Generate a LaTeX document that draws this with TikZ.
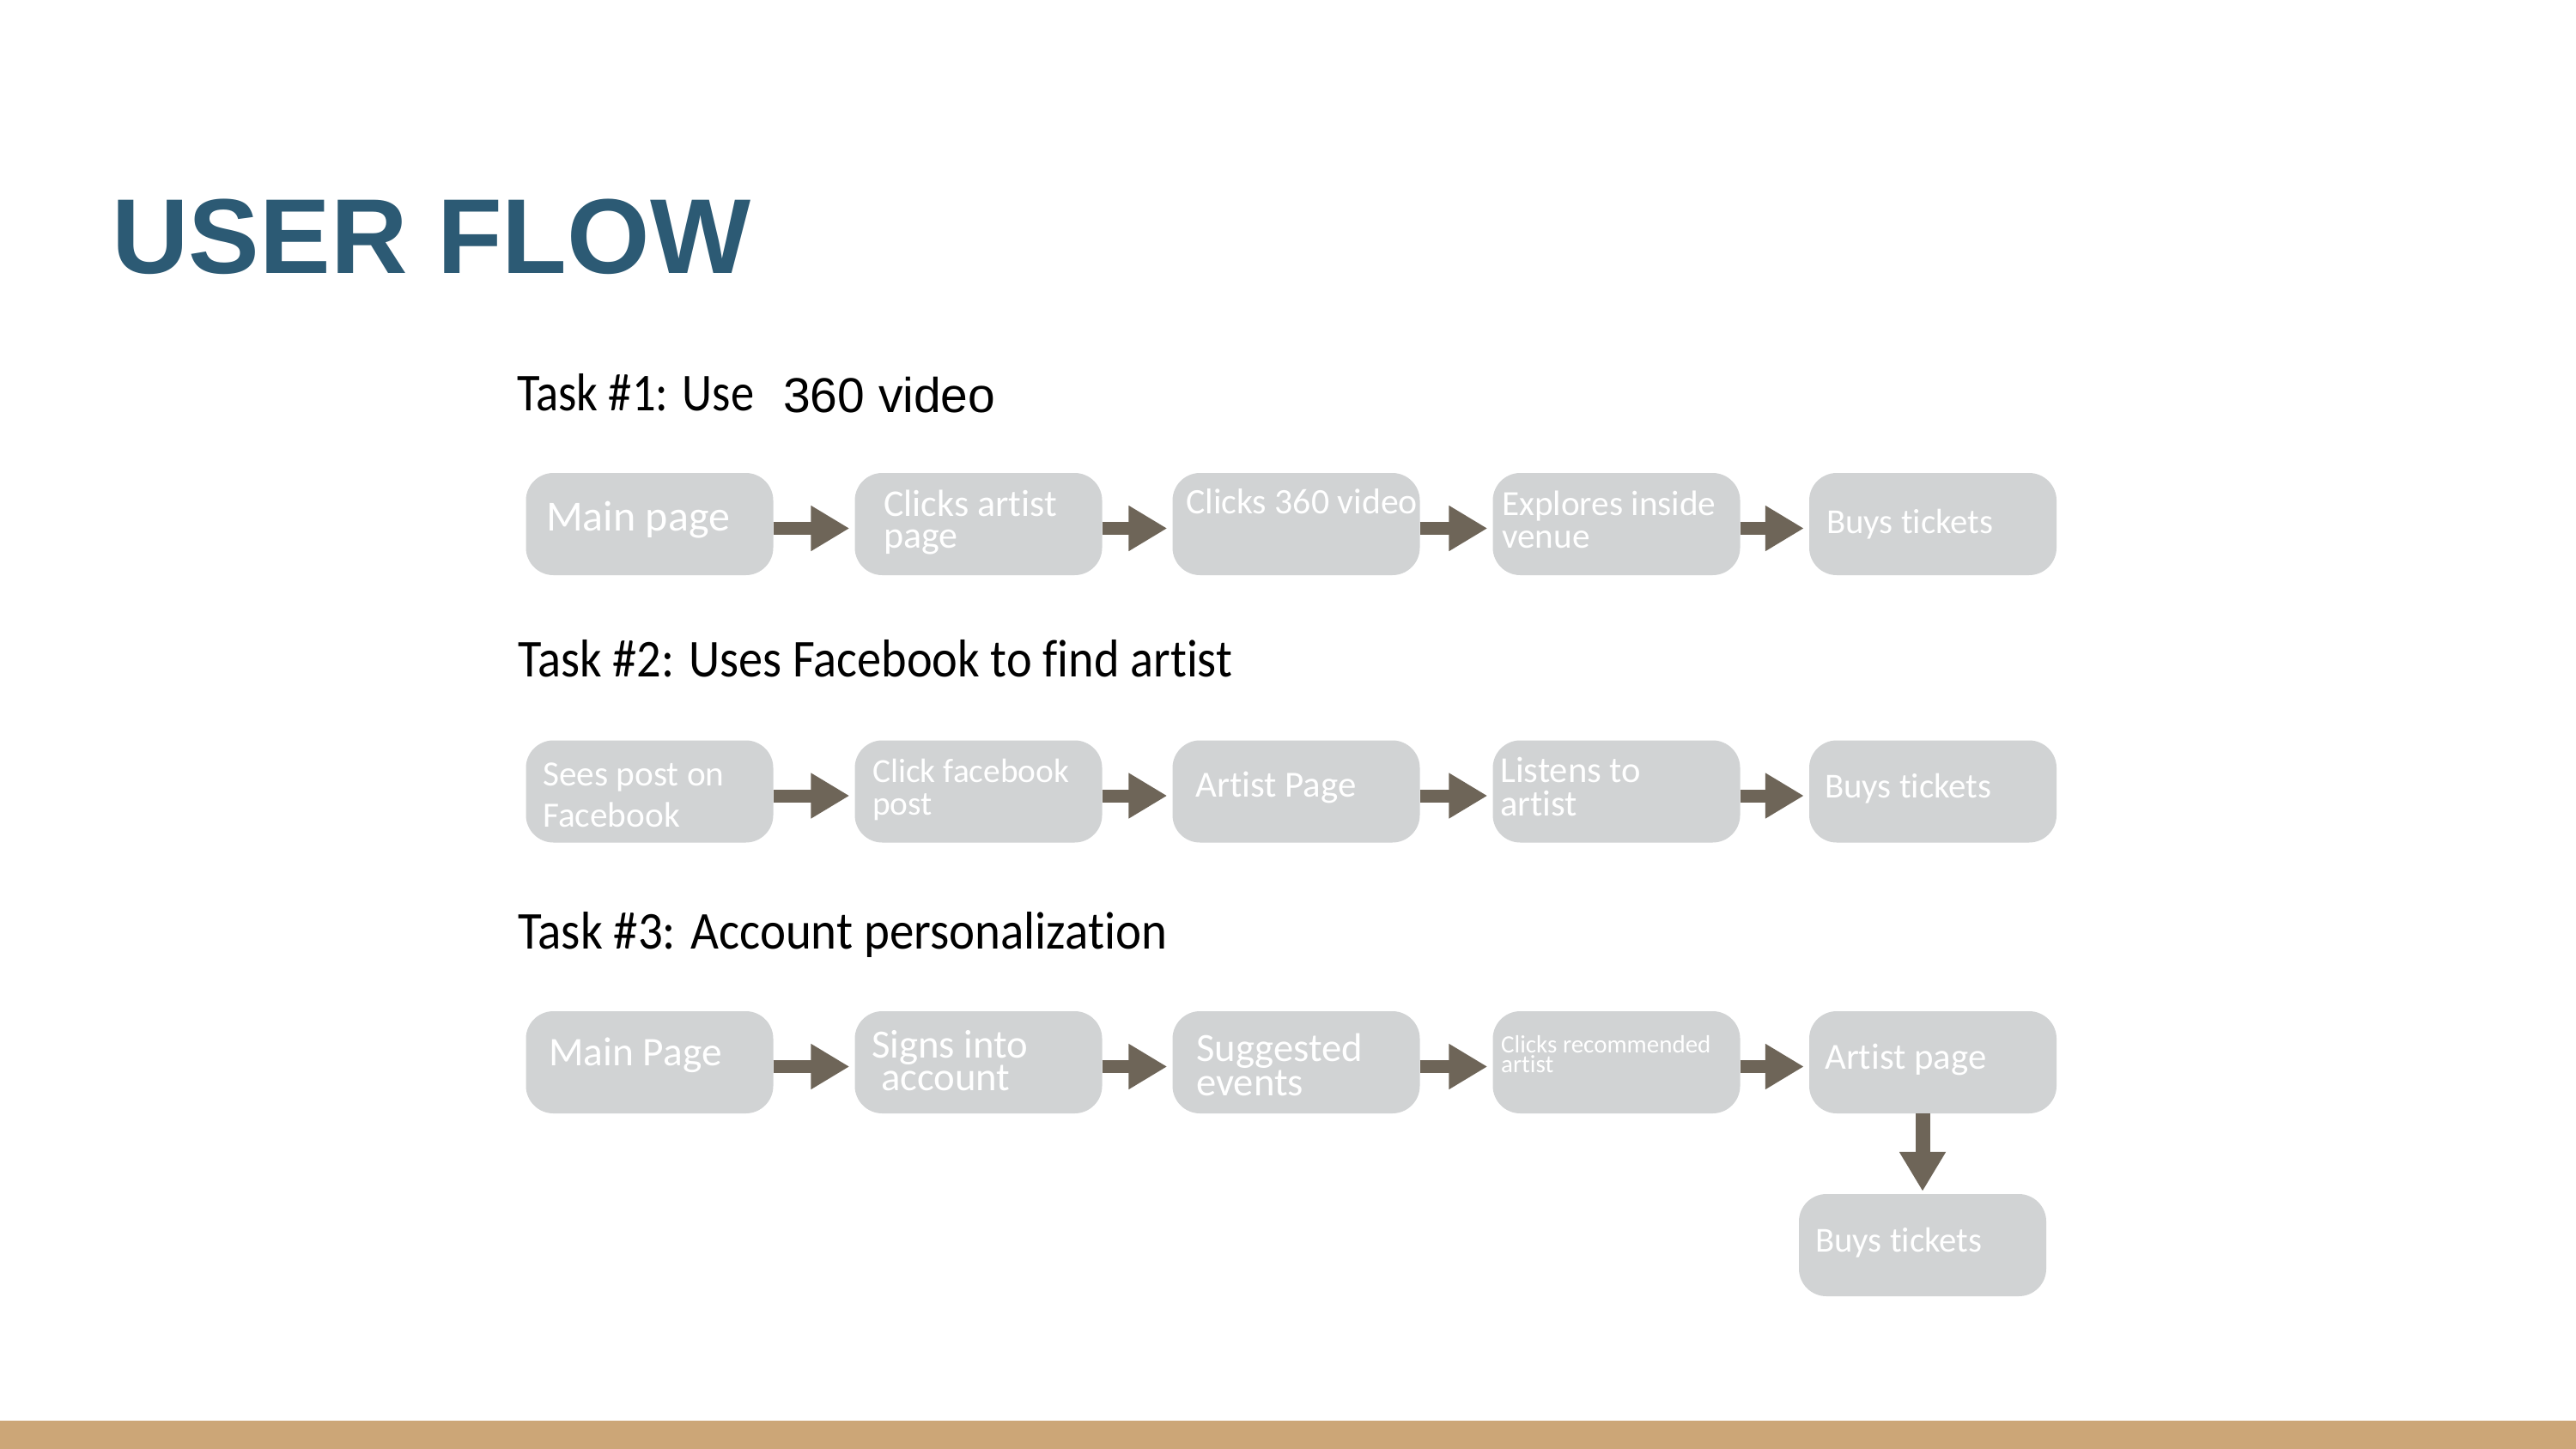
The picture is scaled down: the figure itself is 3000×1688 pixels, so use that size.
\documentclass[tikz,border=0pt]{standalone}
\usepackage{fontspec}
\usepackage{graphicx}
\setmainfont{Carlito}[Ligatures=NoCommon]
\newfontfamily\arialfont{Liberation Sans}
\usetikzlibrary{arrows.meta}

\definecolor{titleblue}{RGB}{44,90,116}
\definecolor{boxgray}{RGB}{209,211,212}
\definecolor{arrowbrown}{RGB}{110,101,88}
\definecolor{footertan}{RGB}{204,166,119}

% font size helper and two-line label (baseline = first line)
\newcommand\fs[1]{\fontsize{#1}{#1}\selectfont}
\newcommand\twolines[3]{\vtop{\baselineskip=#1pt\lineskiplimit=-1000pt\hbox{#2}\hbox{#3}}}

\tikzset{
  stepbox/.style={rectangle, rounded corners=32pt, fill=boxgray,
    minimum width=288pt, minimum height=119pt, inner sep=0pt},
  lbl/.style={anchor=base west, inner sep=0pt, text=white},
  taskhead/.style={anchor=base west, inner sep=0pt, text=black},
  flow/.style={draw=arrowbrown, line width=15pt,
    -{Triangle[length=45pt,width=50pt]}},
  flowdown/.style={draw=arrowbrown, line width=17pt,
    -{Triangle[length=46pt,width=51pt]}},
}

\begin{document}
\begin{tikzpicture}[x=1pt, y=-1pt]
\useasboundingbox (0,0) rectangle (3000,1688);
\fill[white] (0,0) rectangle (3000,1688);

% footer band
\fill[footertan] (0,1655) rectangle (3000,1688);

% title
\node[anchor=base west, inner sep=0pt, text=titleblue] (title) at (130,319)
  {\arialfont\bfseries\fs{124}USER FLOW};

% task headings
\node[taskhead] (task1) at (602,478)
  {\resizebox{276pt}{\height}{\fs{62}Task \#1: Use}};
\node[taskhead] (task1b) at (912,480) {\arialfont\fs{57}360 video};
\node[taskhead] (task2) at (603,788)
  {\resizebox{832pt}{\height}{\fs{62}Task \#2: Uses Facebook to find artist}};
\node[taskhead] (task3) at (603,1105)
  {\resizebox{756pt}{\height}{\fs{62}Task \#3: Account personalization}};

% ---- row 1 ----
\node[stepbox] (a11) at (756.5,610.5) {};
\node[stepbox] (a12) at (1139.5,610.5) {};
\node[stepbox] (a13) at (1509.5,610.5) {};
\node[stepbox] (a14) at (1882.5,610.5) {};
\node[stepbox] (a15) at (2251,610.5) {};

\node[lbl] (t11) at (636,618) {\fs{50}Main page};
\node[lbl] (t12) at (1029,601) {\fs{44}\twolines{37}{Clicks artist}{page}};
\node[lbl] (t13) at (1381,598) {\fs{41.8}Clicks 360 video};
\node[lbl] (t14) at (1749,600) {\fs{41.2}\twolines{38}{Explores inside}{venue}};
\node[lbl] (t15) at (2127,621) {\fs{40.8}Buys tickets};

% ---- row 2 ----
\node[stepbox] (a21) at (756.5,922) {};
\node[stepbox] (a22) at (1139.5,922) {};
\node[stepbox] (a23) at (1509.5,922) {};
\node[stepbox] (a24) at (1882.5,922) {};
\node[stepbox] (a25) at (2251,922) {};

\node[lbl] (t21) at (632,915) {\fs{41.3}\twolines{48}{Sees post on}{Facebook}};
\node[lbl] (t22) at (1016,911) {\fs{39.4}\twolines{38}{Click facebook}{post}};
\node[lbl] (t23) at (1392,928) {\fs{42.9}Artist Page};
\node[lbl] (t24) at (1747,911) {\fs{42.6}\twolines{39}{Listens to}{artist}};
\node[lbl] (t25) at (2125,929) {\fs{40.8}Buys tickets};

% ---- row 3 ----
\node[stepbox] (a31) at (756.5,1237.5) {};
\node[stepbox] (a32) at (1139.5,1237.5) {};
\node[stepbox] (a33) at (1509.5,1237.5) {};
\node[stepbox] (a34) at (1882.5,1237.5) {};
\node[stepbox] (a35) at (2251,1237.5) {};
\node[stepbox] (a36) at (2239,1450.5) {};

\node[lbl] (t31) at (639,1241) {\fs{47.4}Main Page};
\node[lbl] (t32) at (1015,1232) {\fs{46.7}\twolines{38}{Signs into}{\hspace*{11pt}account}};
\node[lbl] (t33) at (1393,1236) {\fs{46.7}\twolines{40}{Suggested}{events}};
\node[lbl] (t34) at (1748,1226) {\fs{29}\twolines{23}{Clicks recommended}{artist}};
\node[lbl] (t35) at (2125,1245) {\fs{42.8}Artist page};
\node[lbl] (t36) at (2114,1458) {\fs{40.8}Buys tickets};

% ---- connectors ----
\foreach \r in {1,2,3}{
  \foreach \c/\n in {1/2,2/3,3/4,4/5}{
    \draw[flow] ([yshift=-5pt]a\r\c.east) -- ([yshift=-5pt,xshift=-6pt]a\r\n.west);
  }
}
\draw[flowdown] (a35.south -| a36.north) -- ([yshift=3pt]a36.north);

\end{tikzpicture}
\end{document}
